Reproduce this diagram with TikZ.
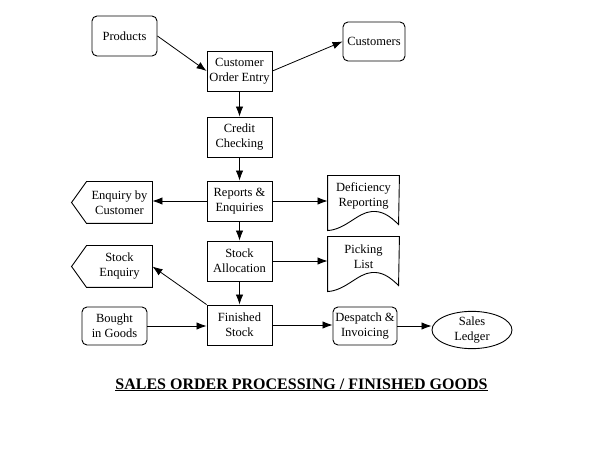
\documentclass[tikz,border=0pt]{standalone}
\usepackage{fontspec}
\setmainfont{Liberation Serif}
\usetikzlibrary{arrows.meta,shapes.geometric,calc}
\newcommand\docshape[1]{%
  \draw (#1.north west) -- (#1.north east) -- ($(#1.north west)+(71,49)$)
    .. controls ($(#1.north west)+(62,40)$) and ($(#1.north west)+(54,35)$) .. ($(#1.north west)+(44,36)$)
    .. controls ($(#1.north west)+(30,37)$) and ($(#1.north west)+(18,54)$) .. ($(#1.north west)+(0,55)$) -- cycle;}
\newcommand\pentshape[1]{%
  \draw (#1.north east) -- (#1.south east) -- (#1.south west) -- ($(#1.west)+(-15,0)$) -- (#1.north west) -- cycle;}
\begin{document}
\begin{tikzpicture}[x=1pt,y=-1pt,
  every node/.style={font=\fontsize{12.5}{15}\selectfont, align=center, inner sep=1pt},
  proc/.style={draw, line width=0.9pt, minimum width=65pt, minimum height=40pt},
  rbox/.style={draw, line width=0.9pt, rounded corners=5pt},
  plain/.style={minimum width=65pt, minimum height=41pt},
  docn/.style={minimum width=71pt, minimum height=40pt},
  arr/.style={line width=0.8pt, -{Latex[length=10pt,width=7.5pt]}},
  line width=0.9pt]
\useasboundingbox (0,0) rectangle (600,449);

\node[rbox, minimum width=65pt, minimum height=40pt] (prod) at (124.5,36) {Products};
\node[rbox, minimum width=62pt, minimum height=39pt] (cust) at (374,41.5) {Customers};
\node[proc] (coe) at (239.5,71) {Customer\\Order Entry};
\node[proc] (cc) at (239.5,137) {Credit\\Checking};
\node[proc] (rep) at (239.5,201) {Reports \&\\Enquiries};
\node[proc] (sa) at (239.5,261) {Stock\\Allocation};
\node[proc] (fs) at (239.5,325) {Finished\\Stock};
\node[rbox, minimum width=65pt, minimum height=38pt] (big) at (114.5,326) {Bought\\in Goods};
\node[rbox, minimum width=64pt, minimum height=38pt] (dsp) at (365,326) {Despatch \&\\Invoicing};
\node[draw, ellipse, line width=0.9pt, minimum width=80pt, minimum height=34pt, inner sep=0pt] (sl) at (472,330) {Sales\\Ledger};

\node[plain] (ebc) at (119.5,202.5) {Enquiry by\\Customer};
\pentshape{ebc}
\node[plain] (se) at (119.5,266.5) {Stock\\Enquiry};
\pentshape{se}

\node[docn] (def) at (363.5,196) {Deficiency\\Reporting};
\docshape{def}
\node[docn] (pl) at (363.5,257) {Picking\\List};
\docshape{pl}

\draw[arr] (prod.east) -- (coe.west);
\draw[arr] (coe.east) -- (cust.west);
\draw[arr] (coe) -- (cc);
\draw[arr] (cc) -- (rep);
\draw[arr] (rep) -- (sa);
\draw[arr] (sa) -- (fs);
\draw[arr] (rep.west) -- (rep.west -| ebc.east);
\draw[arr] (rep.east) -- (rep.east -| def.west);
\draw[arr] (sa.east) -- (sa.east -| pl.west);
\draw[arr] (fs.north west) -- (se.east);
\draw[arr] (big.east) -- (big.east -| fs.west);
\draw[arr] (fs.east) -- (fs.east -| dsp.west);
\draw[arr] (dsp.east) -- (dsp.east -| sl.west);

\node[font=\fontsize{16}{19}\selectfont\bfseries, anchor=base] (title) at (301.5,389) {\underline{SALES ORDER PROCESSING / FINISHED GOODS}};
\end{tikzpicture}
\end{document}
